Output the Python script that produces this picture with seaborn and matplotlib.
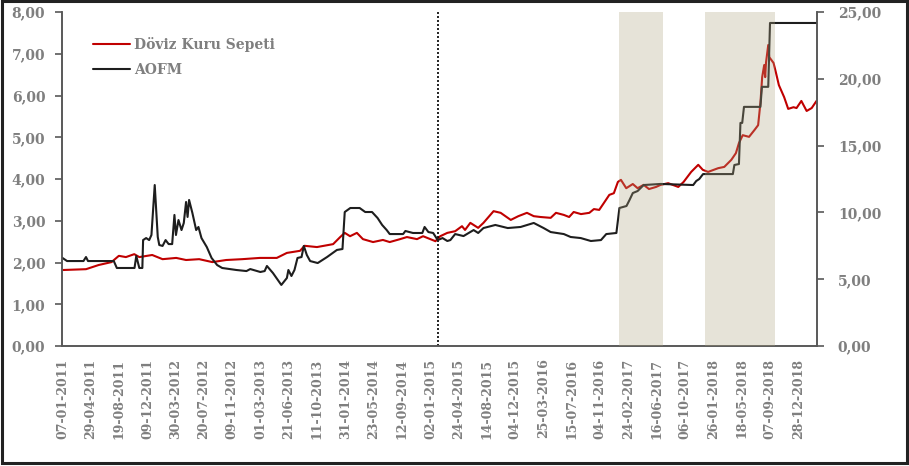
import matplotlib
matplotlib.use("Agg")
import pandas as pd
import seaborn as sns
import matplotlib.pyplot as plt
from matplotlib.ticker import FuncFormatter, MultipleLocator
from matplotlib.lines import Line2D
from matplotlib.patches import Rectangle

# Döviz Kuru Sepeti (left axis)
kur_dates = ["2011-01-07", "2011-04-10", "2011-05-30", "2011-07-20", "2011-08-18", "2011-09-15", "2011-10-18", "2011-11-07", "2011-12-28", "2012-02-07",
             "2012-04-01", "2012-05-10", "2012-07-01", "2012-08-22", "2012-10-16", "2012-12-18", "2013-02-26", "2013-05-04", "2013-06-13", "2013-08-04",
             "2013-08-22", "2013-10-10", "2013-12-13", "2014-01-10", "2014-01-28", "2014-02-18", "2014-03-17", "2014-04-10", "2014-05-20", "2014-06-28",
             "2014-07-25", "2014-09-04", "2014-10-01", "2014-11-10", "2014-12-04", "2015-01-22", "2015-02-10", "2015-03-10", "2015-04-10", "2015-05-07",
             "2015-05-19", "2015-06-09", "2015-07-10", "2015-07-31", "2015-09-09", "2015-10-07", "2015-11-16", "2015-12-16", "2016-01-19", "2016-02-15",
             "2016-03-13", "2016-04-22", "2016-05-13", "2016-06-13", "2016-07-04", "2016-07-22", "2016-08-20", "2016-09-22", "2016-10-10", "2016-10-31",
             "2016-11-19", "2016-12-10", "2016-12-28", "2017-01-13", "2017-01-25", "2017-02-15", "2017-03-13", "2017-04-01", "2017-04-25", "2017-05-16",
             "2017-06-13", "2017-07-01", "2017-07-31", "2017-09-09", "2017-09-30", "2017-10-30", "2017-11-27", "2017-12-15", "2018-01-05", "2018-02-14",
             "2018-03-10", "2018-04-07", "2018-04-25", "2018-05-07", "2018-05-22", "2018-06-16", "2018-07-07", "2018-07-22", "2018-07-31", "2018-08-07",
             "2018-08-15", "2018-08-19", "2018-08-22", "2018-08-31", "2018-09-04", "2018-09-21", "2018-09-30", "2018-10-12", "2018-11-02", "2018-11-18",
             "2018-12-09", "2018-12-21", "2019-01-09", "2019-01-30", "2019-02-19", "2019-03-10"]
kur_values = [1.82, 1.84, 1.94, 2.01, 2.16, 2.13, 2.20, 2.13, 2.18, 2.08,
              2.11, 2.06, 2.08, 2.01, 2.06, 2.08, 2.11, 2.11, 2.23, 2.28,
              2.40, 2.37, 2.44, 2.61, 2.71, 2.63, 2.71, 2.56, 2.49, 2.54,
              2.49, 2.56, 2.61, 2.56, 2.63, 2.51, 2.63, 2.71, 2.75, 2.87,
              2.78, 2.95, 2.83, 2.95, 3.23, 3.19, 3.02, 3.11, 3.19, 3.11,
              3.09, 3.07, 3.19, 3.14, 3.09, 3.21, 3.16, 3.19, 3.28, 3.26,
              3.43, 3.62, 3.66, 3.93, 3.98, 3.78, 3.88, 3.78, 3.86, 3.76,
              3.81, 3.86, 3.90, 3.81, 3.93, 4.17, 4.34, 4.22, 4.17, 4.26,
              4.29, 4.46, 4.62, 4.86, 5.05, 5.01, 5.17, 5.29, 5.82, 6.44,
              6.73, 6.44, 6.78, 7.21, 6.92, 6.78, 6.56, 6.25, 5.96, 5.68,
              5.72, 5.70, 5.87, 5.63, 5.70, 5.87]

# AOFM (right axis)
aofm_dates = ["2011-01-07", "2011-01-25", "2011-03-31", "2011-04-10", "2011-04-18", "2011-07-29", "2011-08-10", "2011-10-19", "2011-10-26", "2011-11-07",
              "2011-11-19", "2011-11-22", "2011-12-04", "2011-12-16", "2011-12-25", "2012-01-07", "2012-01-19", "2012-01-25", "2012-02-07", "2012-02-19",
              "2012-03-02", "2012-03-16", "2012-03-25", "2012-03-31", "2012-04-10", "2012-04-22", "2012-05-01", "2012-05-10", "2012-05-16", "2012-05-22",
              "2012-06-04", "2012-06-19", "2012-06-28", "2012-07-10", "2012-07-31", "2012-08-19", "2012-09-10", "2012-09-30", "2012-11-25", "2013-01-04",
              "2013-01-19", "2013-02-28", "2013-03-17", "2013-03-26", "2013-04-19", "2013-05-22", "2013-06-13", "2013-06-19", "2013-07-01", "2013-07-13",
              "2013-07-25", "2013-08-10", "2013-08-19", "2013-08-31", "2013-09-13", "2013-10-13", "2013-11-19", "2013-12-28", "2014-01-19", "2014-01-28",
              "2014-02-19", "2014-03-28", "2014-04-19", "2014-05-16", "2014-06-07", "2014-06-25", "2014-07-13", "2014-07-25", "2014-09-16", "2014-09-25",
              "2014-10-25", "2014-12-01", "2014-12-10", "2014-12-25", "2015-01-13", "2015-01-31", "2015-02-19", "2015-03-10", "2015-03-22", "2015-04-10",
              "2015-05-13", "2015-06-22", "2015-07-10", "2015-07-31", "2015-09-16", "2015-11-04", "2015-12-25", "2016-02-15", "2016-03-25", "2016-04-22",
              "2016-06-13", "2016-07-10", "2016-08-19", "2016-09-28", "2016-11-07", "2016-11-28", "2017-01-07", "2017-01-19", "2017-02-16", "2017-02-28",
              "2017-03-13", "2017-04-01", "2017-04-25", "2017-07-01", "2017-11-07", "2017-11-19", "2017-12-01", "2017-12-16", "2018-04-13", "2018-04-19",
              "2018-05-07", "2018-05-13", "2018-05-20", "2018-05-27", "2018-07-31", "2018-08-06", "2018-08-31", "2018-09-07", "2019-03-10"]
aofm_values = [6.59, 6.36, 6.36, 6.66, 6.36, 6.36, 5.84, 5.84, 6.74, 5.84,
               5.84, 7.93, 8.08, 7.93, 8.31, 12.05, 8.16, 7.56, 7.49, 7.93,
               7.63, 7.63, 9.81, 8.31, 9.43, 8.68, 9.21, 10.78, 9.66, 10.93,
               9.96, 8.68, 8.91, 8.08, 7.41, 6.59, 6.06, 5.84, 5.69, 5.61,
               5.76, 5.54, 5.61, 5.99, 5.46, 4.57, 5.09, 5.69, 5.24, 5.69,
               6.59, 6.66, 7.49, 6.81, 6.36, 6.21, 6.66, 7.19, 7.26, 10.03,
               10.33, 10.33, 10.03, 10.03, 9.58, 9.06, 8.68, 8.38, 8.38, 8.61,
               8.46, 8.46, 8.91, 8.53, 8.46, 7.93, 8.08, 7.86, 7.93, 8.38,
               8.23, 8.68, 8.46, 8.83, 9.06, 8.83, 8.91, 9.21, 8.83, 8.53,
               8.38, 8.16, 8.08, 7.86, 7.93, 8.38, 8.46, 10.33, 10.48, 10.93,
               11.45, 11.60, 12.05, 12.13, 12.05, 12.35, 12.50, 12.87, 12.87, 13.55,
               13.62, 16.70, 16.70, 17.90, 17.90, 19.40, 19.40, 24.18, 24.18]

tick_labels = ["07-01-2011", "29-04-2011", "19-08-2011", "09-12-2011", "30-03-2012", "20-07-2012", "09-11-2012",
               "01-03-2013", "21-06-2013", "11-10-2013", "31-01-2014", "23-05-2014", "12-09-2014", "02-01-2015",
               "24-04-2015", "14-08-2015", "04-12-2015", "25-03-2016", "15-07-2016", "04-11-2016", "24-02-2017",
               "16-06-2017", "06-10-2017", "26-01-2018", "18-05-2018", "07-09-2018", "28-12-2018"]

shade_start = ["2017-01-19", "2017-12-25"]
shade_end = ["2017-07-10", "2018-09-25"]
marker_date = "2015-02-03"

kur = pd.DataFrame({"date": pd.to_datetime(kur_dates), "value": kur_values})
aofm = pd.DataFrame({"date": pd.to_datetime(aofm_dates), "value": aofm_values})

sns.set_style("white")
plt.rcParams["font.family"] = ["DejaVu Serif"]
plt.rcParams["font.weight"] = "bold"

grey = "#7F7F7F"
spine = "#595959"
red = "#C00000"
black = "#1E1E1E"

fig = plt.figure(figsize=(9.09, 4.66), dpi=100)
ax = fig.add_axes([0.0682, 0.2575, 0.8306, 0.7167])
ax2 = ax.twinx()

sns.lineplot(data=kur, x="date", y="value", ax=ax, color=red, linewidth=1.5, legend=False)
sns.lineplot(data=aofm, x="date", y="value", ax=ax2, color=black, linewidth=1.5, legend=False, zorder=2)

for s, e in zip(shade_start, shade_end):
    ax2.axvspan(pd.Timestamp(s), pd.Timestamp(e), facecolor="#ADA37F", alpha=0.3, edgecolor="none", zorder=3)

ax.axvline(pd.Timestamp(marker_date), color="black", linestyle=(0, (1.2, 1.2)), linewidth=1.2)

ax.set_xlim(pd.Timestamp("2011-01-05"), pd.Timestamp("2019-03-12"))
ax.set_ylim(0, 8)
ax2.set_ylim(0, 25)
ax.yaxis.set_major_locator(MultipleLocator(1))
ax2.yaxis.set_major_locator(MultipleLocator(5))
fmt = FuncFormatter(lambda v, p: f"{v:.2f}".replace(".", ","))
ax.yaxis.set_major_formatter(fmt)
ax2.yaxis.set_major_formatter(fmt)

ax.set_xticks(pd.to_datetime(tick_labels, format="%d-%m-%Y"))
ax.set_xticklabels(tick_labels, rotation=90)
ax.set_xlabel("")
ax.set_ylabel("")
ax2.set_ylabel("")

ax.tick_params(axis="x", bottom=False, length=0, pad=9, labelsize=9, labelcolor=grey)
ax.tick_params(axis="y", left=True, direction="out", length=5, width=1.2, color=spine,
               pad=7, labelsize=10, labelcolor=grey)
ax2.tick_params(axis="y", right=True, direction="out", length=5, width=1.2, color=spine,
                pad=10, labelsize=10, labelcolor=grey)

for a in (ax, ax2):
    a.spines["top"].set_visible(False)
    for side in ("left", "right", "bottom"):
        a.spines[side].set_color(spine)
        a.spines[side].set_linewidth(1.2)

handles = [Line2D([], [], color=red, linewidth=1.5), Line2D([], [], color=black, linewidth=1.5)]
leg = ax2.legend(handles, ["Döviz Kuru Sepeti", "AOFM"], loc="upper left",
                 bbox_to_anchor=(0.024, 0.962), frameon=False, fontsize=10,
                 handlelength=2.7, handletextpad=0.3, labelspacing=0.8)
for t in leg.get_texts():
    t.set_color(grey)

fig.add_artist(Rectangle((0.002, 0.006), 0.996, 0.991, transform=fig.transFigure,
                         fill=False, edgecolor="#222222", linewidth=2.2))

fig.savefig("out.png", dpi=100)
